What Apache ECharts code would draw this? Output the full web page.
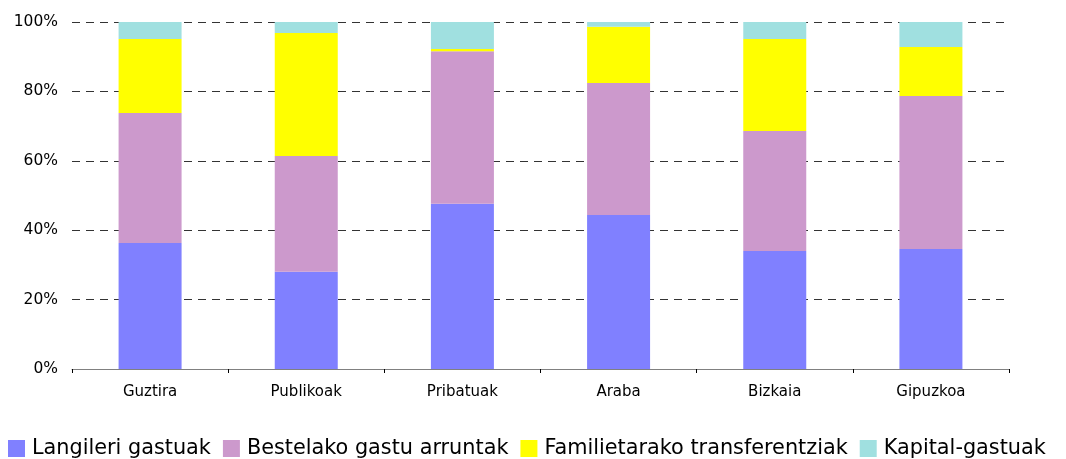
<!DOCTYPE html>
<html>
<head>
<meta charset="utf-8">
<script src="https://cdn.jsdelivr.net/npm/echarts@6/dist/echarts.min.js"></script>
<style>
  html, body { margin: 0; padding: 0; background: #fff; }
  #chart { width: 1066px; height: 459px; }
</style>
</head>
<body>
<div id="chart"></div>
<script>
const categories = ['Guztira', 'Publikoak', 'Pribatuak', 'Araba', 'Bizkaia', 'Gipuzkoa'];
const langileri = [36.3, 28.0, 47.6, 44.4, 34.0, 34.6];
const bestelako = [37.5, 33.4, 44.0, 38.0, 34.6, 44.1];
const familietarako = [21.3, 35.4, 0.6, 16.2, 26.5, 14.1];
const kapital = [4.9, 3.2, 7.8, 1.4, 4.9, 7.2];

const chart = echarts.init(document.getElementById('chart'));

const seriesDefs = [
  { name: 'Langileri gastuak', data: langileri, color: '#8080ff' },
  { name: 'Bestelako gastu arruntak', data: bestelako, color: '#cc99cc' },
  { name: 'Familietarako transferentziak', data: familietarako, color: '#ffff00' },
  { name: 'Kapital-gastuak', data: kapital, color: '#a0e0e0' }
];

chart.setOption({
  animation: false,
  textStyle: { fontFamily: 'DejaVu Sans, sans-serif' },
  grid: { left: 72, right: 57, top: 22, bottom: 90 },
  legend: {
    top: 433,
    left: 3,
    itemWidth: 17,
    itemHeight: 17,
    itemGap: 12,
    icon: 'rect',
    textStyle: { fontSize: 20.8, color: '#000', padding: [2, 0, 0, 2] },
    data: seriesDefs.map((s) => s.name)
  },
  xAxis: {
    type: 'category',
    data: categories,
    axisLine: { lineStyle: { color: '#808080', width: 1 } },
    axisTick: { show: true, length: 4, lineStyle: { color: '#000' } },
    axisLabel: { color: '#000', fontSize: 15, margin: 16 }
  },
  yAxis: {
    type: 'value',
    min: 0,
    max: 100,
    interval: 20,
    axisLine: { show: false },
    axisTick: { show: false },
    axisLabel: { formatter: '{value}%', color: '#000', fontSize: 15.5, margin: 14 },
    splitLine: { lineStyle: { color: '#333', type: [8, 6], width: 1 } }
  },
  series: seriesDefs.map((s) => ({
    name: s.name,
    type: 'bar',
    stack: 'total',
    barWidth: 63,
    data: s.data,
    itemStyle: { color: s.color }
  }))
});
</script>
</body>
</html>
